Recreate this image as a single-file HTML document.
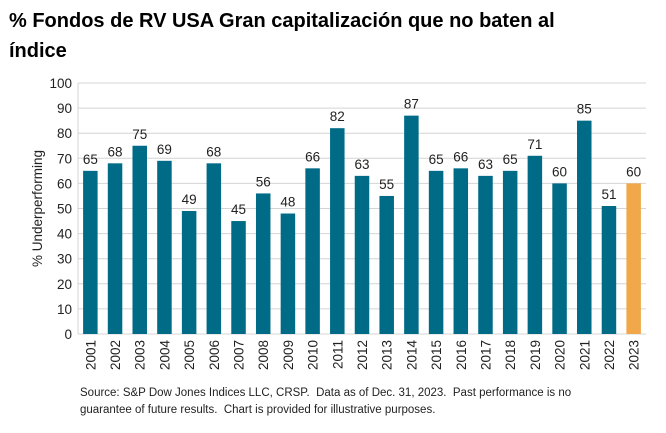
<!DOCTYPE html>
<html><head><meta charset="utf-8"><style>
body{margin:0;background:#fff;width:666px;height:433px;overflow:hidden;font-family:"Liberation Sans",sans-serif;}
#title{position:absolute;left:9px;top:6px;font-weight:bold;font-size:20px;line-height:30px;color:#000;width:660px;white-space:nowrap;}
#src{position:absolute;left:80px;top:385px;font-size:11.5px;line-height:17px;color:#222;}
svg{position:absolute;left:0;top:0;}
</style></head><body>
<div id="title">% Fondos de RV USA Gran capitalización que no baten al<br>índice</div>
<svg id="chart" width="666" height="433"></svg>
<div id="src">Source: S&amp;P Dow Jones Indices LLC, CRSP.&nbsp; Data as of Dec. 31, 2023.&nbsp; Past performance is no<br>guarantee of future results.&nbsp; Chart is provided for illustrative purposes.</div>
<script>
const years=["2001","2002","2003","2004","2005","2006","2007","2008","2009","2010","2011","2012","2013","2014","2015","2016","2017","2018","2019","2020","2021","2022","2023"];
const values=[65,68,75,69,49,68,45,56,48,66,82,63,55,87,65,66,63,65,71,60,85,51,60];
const yTicks=[0,10,20,30,40,50,60,70,80,90,100];
const NS="http://www.w3.org/2000/svg";
const svg=document.getElementById('chart');
const L=78,R=646,T=83,B=334,yMax=100;
const band=(R-L)/years.length;
const y=v=>B-(v/yMax)*(B-T);
const x=i=>L+band*i+band/2;
function mk(t,a){const e=document.createElementNS(NS,t);for(const k in a)e.setAttribute(k,a[k]);svg.appendChild(e);return e;}
yTicks.forEach(t=>{
  const g=mk('line',{x1:L,x2:R,y1:y(t),y2:y(t),stroke:'#d4d4d4','stroke-width':1});
  
  
  const tx=mk('text',{x:L-6,y:y(t)+5,'text-anchor':'end','font-size':13.5,fill:'#222'});
  tx.textContent=t;
  
  
});
const ax=mk('line',{x1:L,x2:L,y1:T,y2:B,stroke:'#d4d4d4'});


const yt=mk('text',{x:0,y:0,transform:`translate(42,${(T+B)/2}) rotate(-90)`,'text-anchor':'middle','font-size':13.5,fill:'#222'});
yt.textContent='% Underperforming';


const bw=14.5;
values.forEach((v,i)=>{
  const last=i===values.length-1;
  const r=mk('rect',{x:x(i)-bw/2,y:y(v),width:bw,height:B-y(v),fill:last?'#f0a84a':'#006b87'});
  
  
  const lb=mk('text',{x:x(i),y:y(v)-7,'text-anchor':'middle','font-size':13.5,fill:'#222'});
  lb.textContent=v;
  
  
  const xl=mk('text',{x:0,y:0,transform:`translate(${x(i)+5},${B+6}) rotate(-90)`,'text-anchor':'end','font-size':13.5,fill:'#222'});
  xl.textContent=years[i];
  
  
});
</script>
</body></html>
